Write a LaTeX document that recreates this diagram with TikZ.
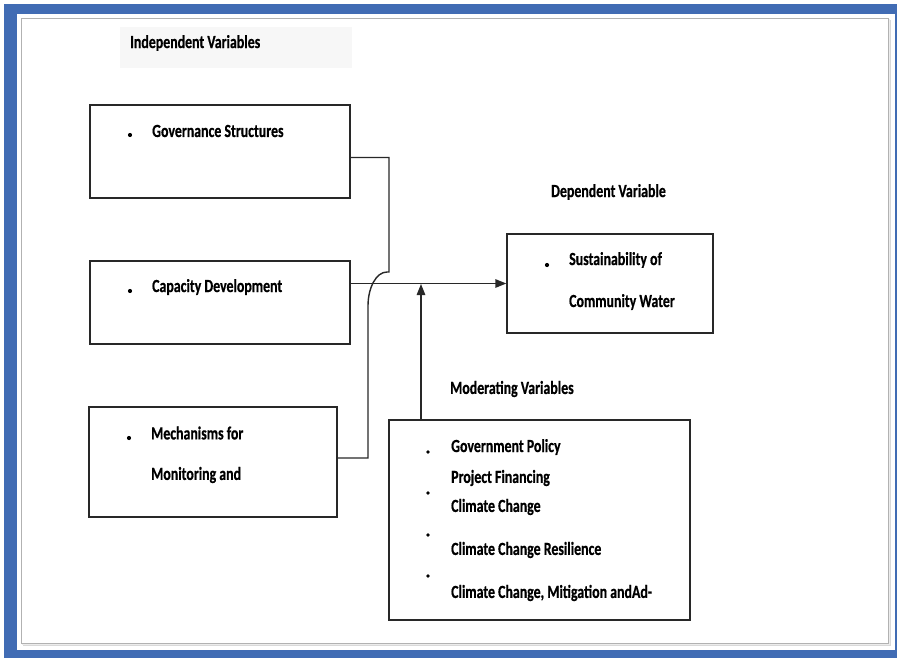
\documentclass[tikz,border=0pt]{standalone}
\usepackage{fontspec}
\setmainfont{Carlito}[FakeStretch=0.75,FakeBold=0.6]
\usetikzlibrary{arrows.meta}
\definecolor{frameblue}{RGB}{65,108,180}
\definecolor{ink}{RGB}{40,40,40}
\definecolor{faint}{RGB}{247,247,247}
\tikzset{
  box/.style={draw=ink, line width=1.4pt, rectangle, inner sep=0pt},
  lbl/.style={anchor=west, inner sep=0pt, font=\fontsize{18.5}{20}\selectfont\bfseries, text=black},
  conn/.style={draw=ink, line width=1.4pt},
  tip/.style={-{Triangle[length=11pt,width=8.5pt]}},
  bul/.style={fill=black}
}
\begin{document}
\begin{tikzpicture}[x=1pt,y=-1pt]
\useasboundingbox (0,0) rectangle (897,658);
% frame
\fill[white] (0,0) rectangle (897,658);
\fill[frameblue] (4,4) rectangle (897,658);
\fill[white] (17,14) rectangle (895,650);
\fill[gray!30] (23,20) rectangle (891,646);
\fill[gray!15] (22,19) rectangle (890,645);
\fill[white] (21,18) rectangle (888,643);
\draw[gray!60, line width=0.8pt] (21,18) rectangle (888,643);
% heading background
\fill[faint] (120,27) rectangle (352,68);
\node[lbl] (hind) at (130,43) {Independent Variables};
% boxes
\node[box, minimum width=260, minimum height=93] (b1) at (220,151.5) {};
\node[box, minimum width=260, minimum height=83] (b2) at (220,302.5) {};
\node[box, minimum width=248, minimum height=110] (b3) at (213,462) {};
\node[box, minimum width=206, minimum height=99] (dep) at (610,283.5) {};
\node[box, minimum width=301, minimum height=200] (mod) at (539.5,520) {};
% texts
\node[lbl] (t1) at (152,131) {Governance Structures};
\node[lbl] (t2) at (152,287) {Capacity Development};
\node[lbl] (t3a) at (151,433) {Mechanisms for};
\node[lbl] (t3b) at (151,475) {Monitoring and};
\node[lbl] (hdep) at (551,192) {Dependent Variable};
\node[lbl] (t4a) at (569,260) {Sustainability of};
\node[lbl] (t4b) at (569,302) {Community Water};
\node[lbl] (hmod) at (450,389) {Moderating Variables};
\node[lbl] (m1) at (451,447) {Government Policy};
\node[lbl] (m2) at (451,478) {Project Financing};
\node[lbl] (m3) at (451,507) {Climate Change};
\node[lbl] (m4) at (451,550) {Climate Change Resilience};
\node[lbl] (m5) at (451,593) {Climate Change, Mitigation andAd-};
% bullets
\fill[bul] (130,135) circle (2.1);
\fill[bul] (130,291) circle (2.1);
\fill[bul] (129,438) circle (2.1);
\fill[bul] (547,265) circle (2.1);
\fill[bul] (428,452) circle (1.9);
\fill[bul] (428,493) circle (1.9);
\fill[bul] (428,535) circle (1.9);
\fill[bul] (428,576) circle (1.9);
% connectors
\coordinate (k1) at (389,272);
\coordinate (k2) at (368,306);
\coordinate (mj) at (421,284);
\draw[conn] ([yshift=-6pt]b1.east) -| (k1) -- ++(-2,0)
   .. controls (376,272) and (368,288) .. (k2) |- ([yshift=4pt]b3.east);
\draw[conn, tip] (b2.east |- dep.west) -- (dep.west);
\draw[conn, tip] (mj |- mod.north) -- (mj);
\end{tikzpicture}
\end{document}
